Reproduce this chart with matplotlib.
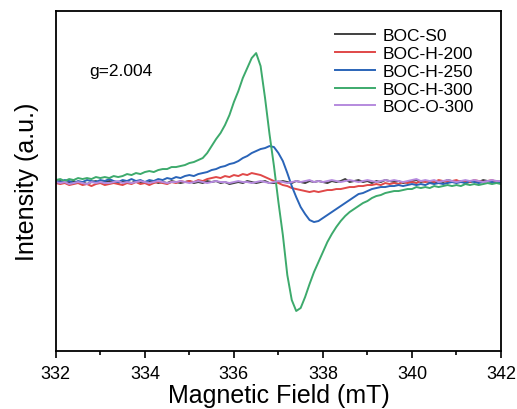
import numpy as np
import matplotlib
matplotlib.use("Agg")
from matplotlib import pyplot as plt
from matplotlib.ticker import MultipleLocator

plt.rcParams['font.family'] = ['Liberation Sans', 'DejaVu Sans']

# magnetic field grid (mT), 0.1 mT step
field = np.round(np.arange(332.0, 342.05, 0.1), 1)

# intensities (arbitrary units)
boc_s0 = [0, 1, -1, 0, 1, -1, 0, -2, 0, 1,
          -1, 0, 1, 0, -1, 1, 0, -1, 1, 0,
          -1, 0, 1, -1, 0, -1, 1, 0, -1, 0,
          1, -1, 0, -1, 1, 0, 1, -1, 0, -2,
          -1, 0, -1, 1, 0, -1, 0, 1, -1, -1,
          0, 1, 0, -1, 1, 0, -1, 1, 0, 1,
          0, -1, 1, 0, 1, 3, 0, 1, 2, 0,
          1, -1, 1, 0, 2, 1, 0, 1, -1, 0,
          1, 2, 0, 1, 0, -1, 1, 0, 2, 1,
          0, 1, -1, 0, 1, 0, 2, 1, 0, 1,
          0]
boc_h200 = [-1, -2, -1, -3, -2, -1, -3, -2, -4, -2,
            -1, -3, -2, -1, -2, -3, -1, -2, 0, -2,
            -1, -3, -1, 0, -1, -2, 0, -1, 1, 0,
            1, 0, 2, 1, 3, 4, 5, 4, 6, 5,
            7, 6, 8, 7, 9, 8, 7, 5, 3, 1,
            -1, -3, -4, -6, -7, -8, -9, -10, -9, -10,
            -9, -8, -8, -7, -7, -6, -5, -5, -4, -4,
            -3, -3, -2, -3, -1, -2, -1, -2, 0, -1,
            0, -1, 1, 0, 1, 0, 2, 1, 0, 1,
            2, 0, 1, 0, 2, 1, 0, 1, 2, 0,
            1]
boc_h250 = [1, 0, 2, 1, -1, 1, 0, 2, 1, 0,
            2, 1, 3, 1, 0, 2, 1, 3, 1, 2,
            0, 2, 1, 3, 2, 4, 3, 5, 4, 6,
            7, 6, 8, 9, 10, 12, 13, 15, 16, 18,
            19, 21, 24, 26, 29, 31, 33, 34, 36, 35,
            29, 21, 9, -4, -15, -25, -32, -38, -40, -39,
            -36, -33, -30, -27, -24, -21, -18, -15, -12, -11,
            -9, -7, -6, -5, -5, -4, -4, -3, -4, -3,
            -2, -3, -2, -3, -1, -2, -1, -2, -1, 0,
            -1, 0, -1, 1, 0, -1, 0, 1, 0, -1,
            0]
boc_h300 = [2, 3, 1, 3, 2, 4, 3, 4, 3, 5,
            4, 5, 4, 6, 5, 6, 8, 7, 9, 8,
            10, 11, 10, 12, 13, 13, 15, 15, 16, 17,
            19, 20, 22, 24, 29, 36, 43, 49, 57, 67,
            80, 91, 104, 114, 124, 129, 116, 84, 48, 16,
            -20, -53, -93, -118, -129, -126, -115, -102, -90, -80,
            -70, -60, -52, -45, -39, -34, -30, -27, -24, -21,
            -19, -16, -14, -13, -11, -10, -9, -9, -8, -7,
            -7, -5, -6, -5, -6, -4, -5, -4, -3, -4,
            -3, -4, -2, -3, -2, -3, -2, -1, -2, -1,
            -2]
boc_o300 = [0, -1, 0, -2, -1, 0, -1, -2, 0, -1,
            0, -1, -1, 0, 1, -1, 0, -1, 0, 1,
            0, -1, 0, 1, 0, -1, 0, 0, 1, 0,
            -1, 0, 1, 0, -1, 0, 1, 0, 0, -1,
            0, 1, 0, 0, -1, 0, 1, 0, -1, 0,
            1, 0, -1, 0, 1, 0, 1, 2, 0, 1,
            0, 1, 2, 1, 0, 1, 2, 1, 0, 1,
            2, 1, 0, 1, 2, 1, 2, 1, 0, 1,
            2, 3, 1, 2, 1, 2, 0, 1, 2, 1,
            0, 1, 2, 1, 2, 1, 0, 1, 2, 1,
            1]

labels = ['BOC-S0', 'BOC-H-200', 'BOC-H-250', 'BOC-H-300', 'BOC-O-300']
colors = ['#404040', '#e04848', '#2a64b8', '#3daa6c', '#b68ade']
series = [boc_s0, boc_h200, boc_h250, boc_h300, boc_o300]

fig = plt.figure(figsize=(5.17, 4.10), dpi=100)
ax = fig.add_axes([0.108, 0.1415, 0.861, 0.829])

for y, lab, c in zip(series, labels, colors):
    ax.plot(field, y, color=c, lw=1.4, label=lab)

ax.set_xlim(332, 342)
ax.set_ylim(-169, 171)
ax.xaxis.set_major_locator(MultipleLocator(2))
ax.xaxis.set_minor_locator(MultipleLocator(1))
ax.tick_params(axis='x', which='major', direction='out', length=5, width=1.2,
               labelsize=13, pad=5)
ax.tick_params(axis='x', which='minor', direction='out', length=3, width=1.2)
ax.set_yticks([])
for s in ax.spines.values():
    s.set_linewidth(1.3)

ax.set_xlabel('Magnetic Field (mT)', fontsize=18, labelpad=1)
ax.set_ylabel('Intensity (a.u.)', fontsize=18, labelpad=12)

ax.text(0.076, 0.824, 'g=2.004', transform=ax.transAxes, fontsize=12.5,
        va='center', ha='left')

ax.legend(loc='upper left', bbox_to_anchor=(0.607, 0.975), frameon=False,
          fontsize=12.5, borderpad=0, handlelength=2.3, handletextpad=0.45,
          labelspacing=0.15)

fig.savefig('out.png', dpi=100)
